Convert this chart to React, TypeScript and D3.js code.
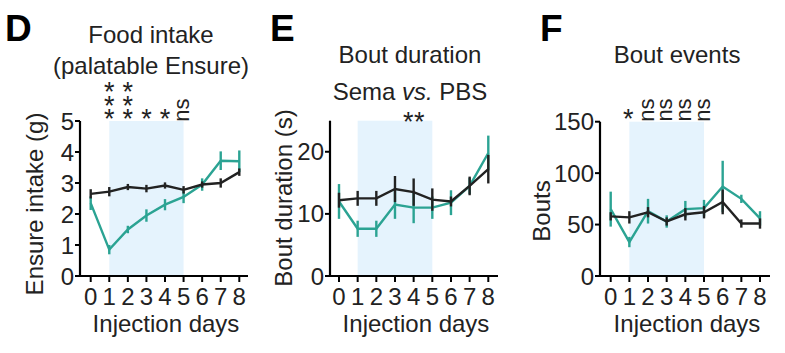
import * as d3 from 'd3'

const days = [0, 1, 2, 3, 4, 5, 6, 7, 8]

// D: food intake (g)
const intakePbs = [2.65, 2.72, 2.87, 2.82, 2.92, 2.78, 2.95, 3.0, 3.35]
const intakePbsErr = [0.15, 0.15, 0.1, 0.12, 0.1, 0.12, 0.1, 0.15, 0.12]
const intakeSema = [2.35, 0.85, 1.5, 1.95, 2.3, 2.55, 2.95, 3.72, 3.7]
const intakeSemaErr = [0.22, 0.15, 0.12, 0.2, 0.18, 0.2, 0.2, 0.3, 0.35]
const intakeTicks = [0, 1, 2, 3, 4, 5]
const intakeMarks = [
  { day: 1, label: '***' },
  { day: 2, label: '***' },
  { day: 3, label: '*' },
  { day: 4, label: '*' },
  { day: 5, label: 'ns' }
]

// E: bout duration (s)
const durPbs = [12.2, 12.5, 12.5, 14.0, 13.5, 12.3, 12.0, 14.5, 17.2]
const durPbsErr = [1.2, 1.2, 1.2, 2.1, 2.2, 1.8, 0.8, 1.5, 2.3]
const durSema = [12.0, 7.6, 7.6, 11.5, 11.0, 11.0, 11.8, 14.5, 19.8]
const durSemaErr = [2.8, 1.3, 1.3, 2.3, 2.5, 1.8, 2.0, 1.3, 2.8]
const durTicks = [0, 10, 20]
const durMarks = [{ day: 4, label: '**' }]

// F: bout events
const boutPbs = [58, 57, 62, 53, 60, 62, 72, 51, 51]
const boutPbsErr = [4, 6, 5, 4, 6, 6, 12, 4, 5]
const boutSema = [65, 33, 63, 53, 65, 66, 87, 75, 56]
const boutSemaErr = [17, 5, 12, 6, 8, 8, 25, 4, 7]
const boutTicks = [0, 50, 100, 150]
const boutMarks = [
  { day: 1, label: '*' },
  { day: 2, label: 'ns' },
  { day: 3, label: 'ns' },
  { day: 4, label: 'ns' },
  { day: 5, label: 'ns' }
]

const TEAL = '#2ba393'
const INK = '#222'
const SHADE = '#e5f3fd'
const FONT = '"Liberation Sans", Arial, Helvetica, sans-serif'

interface PanelProps {
  letter: string
  letterX: number
  titles: { text: any; y: number }[]
  titleX: number
  axisX: number
  x0: number
  x8: number
  axisEnd: number
  yMax: number
  yTopPx: number
  ticks: number[]
  pbs: number[]
  pbsErr: number[]
  sema: number[]
  semaErr: number[]
  marks: { day: number; label: string }[]
  marksY: number
  yLabel: string
  yLabelX: number
  yLabelY: number
}

function Panel(p: PanelProps) {
  const y0 = 276
  const x = d3.scaleLinear().domain([0, 8]).range([p.x0, p.x8])
  const y = d3.scaleLinear().domain([0, p.yMax]).range([y0, p.yTopPx])
  const line = d3
    .line<number>()
    .x((_, i) => x(days[i]))
    .y(d => y(d))

  const series = [
    { vals: p.sema, err: p.semaErr, color: TEAL },
    { vals: p.pbs, err: p.pbsErr, color: INK }
  ]
  const xMid = (p.axisX + p.axisEnd) / 2

  // significance marks, glyph by glyph: one text run for stars, one for "ns"
  const starSize = 27
  const nsSize = 22
  const nAdv = 0.556 * nsSize
  const sAdv = 0.5 * nsSize
  const starX: number[] = []
  const starY: number[] = []
  const nsX: number[] = []
  const nsY: number[] = []
  const nsRot: number[] = []
  p.marks.forEach(m => {
    const cx = x(m.day)
    if (m.label === 'ns') {
      const yn = p.marksY + (nAdv + sAdv) / 2
      nsX.push(cx + 5.5, cx + 5.5)
      nsY.push(yn, yn - nAdv)
      nsRot.push(-90, -90)
    } else if (m.label.length === 2) {
      starX.push(cx - 5.5, cx + 5.5)
      starY.push(p.marksY + 18, p.marksY + 18)
    } else {
      const n = m.label.length
      for (let k = 0; k < n; k++) {
        starX.push(cx - (n === 1 && m.day === 1 ? 1 : 0))
        starY.push(p.marksY + 18 - (n - 1 - k) * 13.5)
      }
    }
  })

  return (
    <g fontFamily={FONT} fill={INK}>
      <text x={p.letterX} y={41} fontSize={37} fontWeight="bold" fill="#000">
        {p.letter}
      </text>
      {p.titles.map((t, i) => (
        <text key={i} x={p.titleX} y={t.y} fontSize={24} textAnchor="middle">
          {t.text}
        </text>
      ))}
      <rect
        x={x(1)}
        y={y(p.yMax)}
        width={x(5) - x(1)}
        height={y(0) - y(p.yMax)}
        fill={SHADE}
      />
      {series.map((s, si) => (
        <g key={si}>
          <path d={line(s.vals) || ''} fill="none" stroke={s.color} strokeWidth={2.4} />
          {s.vals.map((v, i) => (
            <line
              key={i}
              x1={x(days[i])}
              x2={x(days[i])}
              y1={y(v - s.err[i])}
              y2={y(v + s.err[i])}
              stroke={s.color}
              strokeWidth={2.4}
            />
          ))}
        </g>
      ))}
      {/* axes */}
      <line x1={p.axisX} x2={p.axisX} y1={y(p.yMax)} y2={y0 + 1} stroke="#000" strokeWidth={2.2} />
      <line x1={p.axisX - 1} x2={p.axisEnd} y1={y0} y2={y0} stroke="#000" strokeWidth={2.2} />
      {p.ticks.map(t => (
        <g key={t}>
          <line x1={p.axisX - 5} x2={p.axisX} y1={y(t)} y2={y(t)} stroke="#000" strokeWidth={2} />
          <text x={p.axisX - 6} y={y(t) + 8.5} fontSize={24} textAnchor="end">
            {t}
          </text>
        </g>
      ))}
      {days.map(d => (
        <g key={d}>
          <line x1={x(d)} x2={x(d)} y1={y0} y2={y0 + 6} stroke="#000" strokeWidth={2} />
          <text x={x(d)} y={305} fontSize={24} textAnchor="middle">
            {d}
          </text>
        </g>
      ))}
      <text x={xMid + 2} y={332} fontSize={24} textAnchor="middle">
        Injection days
      </text>
      <text
        transform={`translate(${p.yLabelX},${p.yLabelY}) rotate(-90)`}
        fontSize={24}
        textAnchor="middle"
      >
        {p.yLabel}
      </text>
      {starX.length > 0 && (
        <text x={starX.join(' ')} y={starY.join(' ')} fontSize={starSize} textAnchor="middle">
          {'*'.repeat(starX.length)}
        </text>
      )}
      {nsX.length > 0 && (
        <text x={nsX.join(' ')} y={nsY.join(' ')} rotate={nsRot.join(' ')} fontSize={nsSize}>
          {'ns'.repeat(nsX.length / 2)}
        </text>
      )}
    </g>
  )
}

export default function App() {
  return (
    <svg width={785} height={353} style={{ position: 'absolute', left: 0, top: 0, background: '#fff' }}>
      <rect width={785} height={353} fill="#fff" />
      <Panel
        letter="D"
        letterX={5}
        titles={[
          { text: 'Food intake', y: 43 },
          { text: '(palatable Ensure)', y: 74 }
        ]}
        titleX={151}
        axisX={80}
        x0={90.7}
        x8={239.3}
        axisEnd={248}
        yMax={5}
        yTopPx={121}
        ticks={intakeTicks}
        pbs={intakePbs}
        pbsErr={intakePbsErr}
        sema={intakeSema}
        semaErr={intakeSemaErr}
        marks={intakeMarks}
        marksY={110}
        yLabel="Ensure intake (g)"
        yLabelX={43}
        yLabelY={204}
      />
      <Panel
        letter="E"
        letterX={270}
        titles={[
          { text: 'Bout duration', y: 63 },
          {
            text: (
              <>
                Sema <tspan fontStyle="italic">vs.</tspan> PBS
              </>
            ),
            y: 100
          }
        ]}
        titleX={410}
        axisX={330}
        x0={339}
        x8={488.3}
        axisEnd={498}
        yMax={25}
        yTopPx={120.7}
        ticks={durTicks}
        pbs={durPbs}
        pbsErr={durPbsErr}
        sema={durSema}
        semaErr={durSemaErr}
        marks={durMarks}
        marksY={113}
        yLabel="Bout duration (s)"
        yLabelX={292}
        yLabelY={198}
      />
      <Panel
        letter="F"
        letterX={540}
        titles={[{ text: 'Bout events', y: 63 }]}
        titleX={677}
        axisX={600}
        x0={610.7}
        x8={760}
        axisEnd={770}
        yMax={150}
        yTopPx={121.7}
        ticks={boutTicks}
        pbs={boutPbs}
        pbsErr={boutPbsErr}
        sema={boutSema}
        semaErr={boutSemaErr}
        marks={boutMarks}
        marksY={110}
        yLabel="Bouts"
        yLabelX={550}
        yLabelY={211}
      />
    </svg>
  )
}
